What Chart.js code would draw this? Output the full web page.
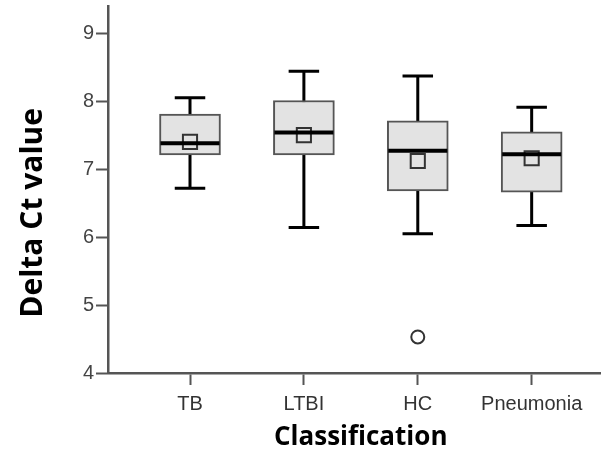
<!DOCTYPE html>
<html>
<head>
<meta charset="utf-8">
<script src="https://cdn.jsdelivr.net/npm/chart.js@4"></script>
<style>
    html, body { margin: 0; padding: 0; background: #fff; }
    #wrap { width: 607px; height: 455px; position: relative; }
</style>
</head>
<body>
<div id="wrap"><canvas id="boxChart"></canvas></div>
<script>
// values
const categories = ['TB', 'LTBI', 'HC', 'Pneumonia'];
const whiskerLow = [6.72, 6.14, 6.05, 6.17];
const q1 = [7.21, 7.21, 6.68, 6.66];
const medians = [7.38, 7.54, 7.27, 7.22];
const q3 = [7.81, 8.01, 7.71, 7.55];
const whiskerHigh = [8.05, 8.44, 8.37, 7.91];
const means = [7.40, 7.50, 7.12, 7.16];
const outlierCategories = ['HC'];
const outlierValues = [4.53];
const yTicks = [4, 5, 6, 7, 8, 9];

const axisColor = '#555555';
const boxFill = '#e3e3e3';

// whiskers go under the boxes, medians on top of everything
const boxPlugin = {
    id: 'boxWhiskers',
    beforeDatasetsDraw(chart) {
        const ctx = chart.ctx;
        const x = chart.scales.x;
        const y = chart.scales.y;
        const bars = chart.getDatasetMeta(0).data;
        ctx.save();
        ctx.strokeStyle = '#000';
        ctx.lineWidth = 3;
        categories.forEach((c, i) => {
            const px = x.getPixelForValue(i + 1);
            const half = bars[i].width / 4;
            const lo = y.getPixelForValue(whiskerLow[i]);
            const hi = y.getPixelForValue(whiskerHigh[i]);
            ctx.beginPath();
            ctx.moveTo(px, lo);
            ctx.lineTo(px, hi);
            ctx.moveTo(px - half, lo);
            ctx.lineTo(px + half, lo);
            ctx.moveTo(px - half, hi);
            ctx.lineTo(px + half, hi);
            ctx.stroke();
        });
        ctx.restore();
    },
    afterDatasetsDraw(chart) {
        const ctx = chart.ctx;
        const x = chart.scales.x;
        const y = chart.scales.y;
        const bars = chart.getDatasetMeta(0).data;
        ctx.save();
        ctx.strokeStyle = '#000';
        ctx.lineWidth = 4;
        categories.forEach((c, i) => {
            const px = x.getPixelForValue(i + 1);
            const half = bars[i].width / 2 - 1;
            const py = y.getPixelForValue(medians[i]);
            ctx.beginPath();
            ctx.moveTo(px - half, py);
            ctx.lineTo(px + half, py);
            ctx.stroke();
        });
        ctx.restore();
    }
};

new Chart(document.getElementById('boxChart'), {
    type: 'bar',
    data: {
        datasets: [{
            data: categories.map((c, i) => ({ x: i + 1, y: [q1[i], q3[i]] })),
            backgroundColor: boxFill,
            borderColor: axisColor,
            borderWidth: 2,
            borderSkipped: false,
            barThickness: 61,
            order: 2
        }, {
            type: 'scatter',
            data: categories.map((c, i) => ({ x: i + 1, y: means[i] })),
            pointStyle: 'rect',
            pointRadius: 10,
            backgroundColor: boxFill,
            borderColor: '#333',
            borderWidth: 2,
            order: 1
        }, {
            type: 'scatter',
            data: outlierCategories.map((c, i) => ({ x: categories.indexOf(c) + 1, y: outlierValues[i] })),
            pointStyle: 'circle',
            pointRadius: 6.5,
            backgroundColor: '#fff',
            borderColor: '#333',
            borderWidth: 2,
            order: 1
        }]
    },
    options: {
        responsive: true,
        maintainAspectRatio: false,
        animation: false,
        layout: { autoPadding: false, padding: { top: 6, right: 7, left: 0, bottom: 0 } },
        plugins: {
            legend: { display: false },
            tooltip: { enabled: false }
        },
        scales: {
            x: {
                type: 'linear',
                min: 0.28,
                max: 4.6,
                offset: false,
                afterBuildTicks: (scale) => {
                    scale.ticks = categories.map((c, i) => ({ value: i + 1 }));
                },
                afterFit: (scale) => { scale.height = 82; },
                border: { color: axisColor, width: 2.5 },
                grid: {
                    offset: false,
                    drawOnChartArea: false,
                    tickLength: 12,
                    tickColor: axisColor,
                    tickWidth: 2
                },
                ticks: {
                    color: '#333',
                    padding: 7,
                    maxRotation: 0,
                    font: { family: 'Liberation Sans', size: 20 },
                    callback: (v) => categories[v - 1]
                },
                title: {
                    display: true,
                    text: '\u00A0\u00A0Classification',
                    color: '#000',
                    padding: { top: 0, bottom: 2 },
                    font: { family: 'Open Sans', size: 26, weight: 'bold' }
                }
            },
            y: {
                min: 4,
                max: 9.4,
                afterBuildTicks: (scale) => {
                    scale.ticks = yTicks.map(v => ({ value: v }));
                },
                afterFit: (scale) => {
                    scale.width = 108;
                    scale.paddingTop = 0;
                },
                border: { color: axisColor, width: 2.5 },
                grid: {
                    drawOnChartArea: false,
                    tickLength: 12,
                    tickColor: axisColor,
                    tickWidth: 2
                },
                ticks: {
                    color: '#444',
                    padding: 2,
                    font: { family: 'Liberation Sans', size: 20 }
                },
                title: {
                    display: true,
                    text: 'Delta Ct value\u00A0\u00A0\u00A0\u00A0\u00A0\u00A0',
                    color: '#000',
                    padding: { top: 15, bottom: 0 },
                    font: { family: 'Open Sans', size: 30, weight: 'bold' }
                }
            }
        }
    },
    plugins: [boxPlugin]
});
</script>
</body>
</html>
